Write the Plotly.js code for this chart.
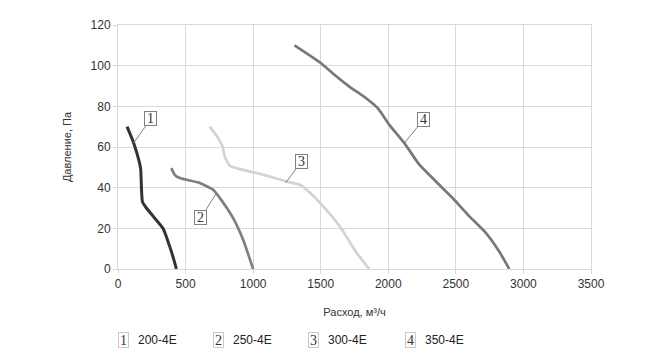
<!DOCTYPE html>
<html>
<head>
<meta charset="utf-8">
<script src="https://cdn.plot.ly/plotly-3.0.1.min.js"></script>
<style>html,body{margin:0;padding:0;background:#fff;}#chart{width:660px;height:360px;}</style>
</head>
<body>
<div id="chart"></div>
<script>
const seriesNames = ["200-4E", "250-4E", "300-4E", "350-4E"];
const seriesNums = ["1", "2", "3", "4"];

const x1 = [67, 116, 156, 168, 181, 210, 259, 333, 383, 420, 432];
const y1 = [70, 62, 53, 49, 33, 30, 26, 20, 11, 3, 0];

const x2 = [395, 420, 457, 605, 704, 753, 852, 926, 1000];
const y2 = [49.6, 46.3, 44.7, 42.3, 39, 35, 25, 14.4, 0];

const x3 = [679, 741, 773, 790, 827, 901, 1050, 1247, 1346, 1396, 1519, 1642, 1766, 1859];
const y3 = [70, 64.4, 60.3, 55.3, 50.8, 49.1, 46.8, 43, 41.4, 39, 30.8, 20.9, 7.9, 0];

const x4 = [1306, 1503, 1601, 1712, 1836, 1922, 2008, 2119, 2230, 2353, 2476, 2600, 2723, 2821, 2895];
const y4 = [110, 101.2, 95.5, 89.7, 84, 79.1, 70.9, 61.9, 51.3, 43, 34.9, 25.9, 17.7, 8.6, 0];

const xTicks = [0, 500, 1000, 1500, 2000, 2500, 3000, 3500];
const yTicks = [0, 20, 40, 60, 80, 100, 120];

const colors = ["#333333", "#7f7f7f", "#d3d3d3", "#787878"];
const xs = [x1, x2, x3, x4], ys = [y1, y2, y3, y4];

const traces = xs.map((x, i) => ({
  x: x, y: ys[i], type: "scatter", mode: "lines", name: seriesNames[i],
  line: {color: colors[i], width: i === 0 ? 3 : 2.7, shape: "spline", smoothing: 0.5},
  showlegend: false, hoverinfo: "skip"
}));

// callouts on curves: [x, y, ax, ay]
const callouts = [
  [116, 62, 17, -24],
  [725, 37, -15, 24],
  [1240, 42.4, 16, -21],
  [2119, 62, 19, -23]
];
const annotations = callouts.map((c, i) => ({
  x: c[0], y: c[1], xref: "x", yref: "y", ax: c[2], ay: c[3],
  text: seriesNums[i], showarrow: true, arrowhead: 0, arrowwidth: 1, arrowcolor: "#808080",
  bordercolor: "#808080", borderwidth: 1, borderpad: 0, bgcolor: "#ffffff",
  width: 11, height: 13, align: "center", valign: "middle",
  font: {family: "Liberation Serif, serif", size: 14, color: "#333"}
}));

// legend built as annotations
const legPx = [118, 213, 308, 405];
legPx.forEach((px, i) => {
  annotations.push({
    x: (px - 118) / 473, y: (269 - 340) / 244, xref: "paper", yref: "paper",
    xanchor: "left", yanchor: "middle", showarrow: false, text: seriesNums[i],
    bordercolor: "#c8c8c8", borderwidth: 1, borderpad: 0, width: 9, height: 14,
    font: {family: "Liberation Serif, serif", size: 14, color: "#333"}
  });
  annotations.push({
    x: (px + 18 - 118) / 473, y: (269 - 340) / 244, xref: "paper", yref: "paper",
    xanchor: "left", yanchor: "middle", showarrow: false, text: seriesNames[i],
    font: {family: "Liberation Sans, Arial, sans-serif", size: 12, color: "#222"}
  });
});

const layout = {
  width: 660, height: 360,
  margin: {l: 118, r: 69, t: 25, b: 91},
  paper_bgcolor: "#fff", plot_bgcolor: "#fff",
  font: {family: "Liberation Sans, Arial, sans-serif", size: 12, color: "#333"},
  xaxis: {
    range: [0, 3500], tickvals: xTicks, ticktext: xTicks.map(String),
    showgrid: true, gridcolor: "#d9d9d9", gridwidth: 1, zeroline: false,
    showline: true, linecolor: "#d9d9d9", mirror: true,
    ticks: "outside", ticklen: 4, tickcolor: "#d9d9d9",
    tickfont: {size: 12, color: "#333"},
    title: {text: "Расход, м³/ч", font: {size: 11, color: "#333"}, standoff: 17}
  },
  yaxis: {
    range: [0, 120], tickvals: yTicks, ticktext: yTicks.map(String),
    showgrid: true, gridcolor: "#d9d9d9", gridwidth: 1, zeroline: false,
    showline: true, linecolor: "#d9d9d9", mirror: true,
    ticks: "outside", ticklen: 4, tickcolor: "#d9d9d9",
    tickfont: {size: 12, color: "#333"},
    title: {text: "Давление, Па", font: {size: 11, color: "#333"}, standoff: 16}
  },
  annotations: annotations
};

Plotly.newPlot("chart", traces, layout, {staticPlot: true, displayModeBar: false});
</script>
</body>
</html>
